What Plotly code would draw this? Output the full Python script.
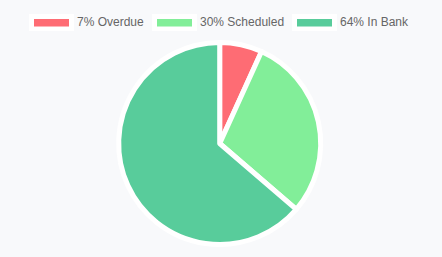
import plotly.graph_objects as go

labels = ["Overdue", "Scheduled", "In Bank"]
values = [6.8, 29.5, 63.7]
colors = ["#FE6C74", "#82EE99", "#58CC9B"]

W, H = 442, 257
BG = "#F8F9FB"

def px(x):
    return x / W

def py(y):
    return 1 - y / H

total = sum(values)

fig = go.Figure(go.Pie(
    labels=labels,
    values=values,
    sort=False,
    direction="clockwise",
    rotation=0,
    textinfo="none",
    hoverinfo="label+percent",
    marker=dict(colors=colors, line=dict(color="#FFFFFF", width=5)),
    domain=dict(x=[px(118.7), px(320.7)], y=[py(244.5), py(42.5)]),
    showlegend=False,
))

# Custom legend (wide colour boxes, like the reference)
box_left = [29, 152, 292]
text_left = [77, 200, 340]
shapes = []
annotations = []
for i, lab in enumerate(labels):
    x0 = box_left[i]
    shapes.append(dict(type="rect", xref="paper", yref="paper",
                       x0=px(x0), x1=px(x0 + 45), y0=py(31), y1=py(14),
                       fillcolor="#FFFFFF", line=dict(width=0), layer="above"))
    shapes.append(dict(type="rect", xref="paper", yref="paper",
                       x0=px(x0 + 5), x1=px(x0 + 40), y0=py(26.5), y1=py(19),
                       fillcolor=colors[i], line=dict(width=0), layer="above"))
    pct = int(values[i] / total * 100 + 0.5)
    annotations.append(dict(
        xref="paper", yref="paper", x=px(text_left[i] - 2), y=py(21.5),
        xanchor="left", yanchor="middle", showarrow=False,
        text=f"{pct}% {lab}",
        font=dict(family="Arial, Liberation Sans, sans-serif", size=12, color="#666666"),
    ))

fig.update_layout(
    width=W, height=H,
    margin=dict(l=0, r=0, t=0, b=0),
    paper_bgcolor=BG, plot_bgcolor=BG,
    shapes=shapes, annotations=annotations,
)

fig.write_html("out.html", config={"displayModeBar": False})
